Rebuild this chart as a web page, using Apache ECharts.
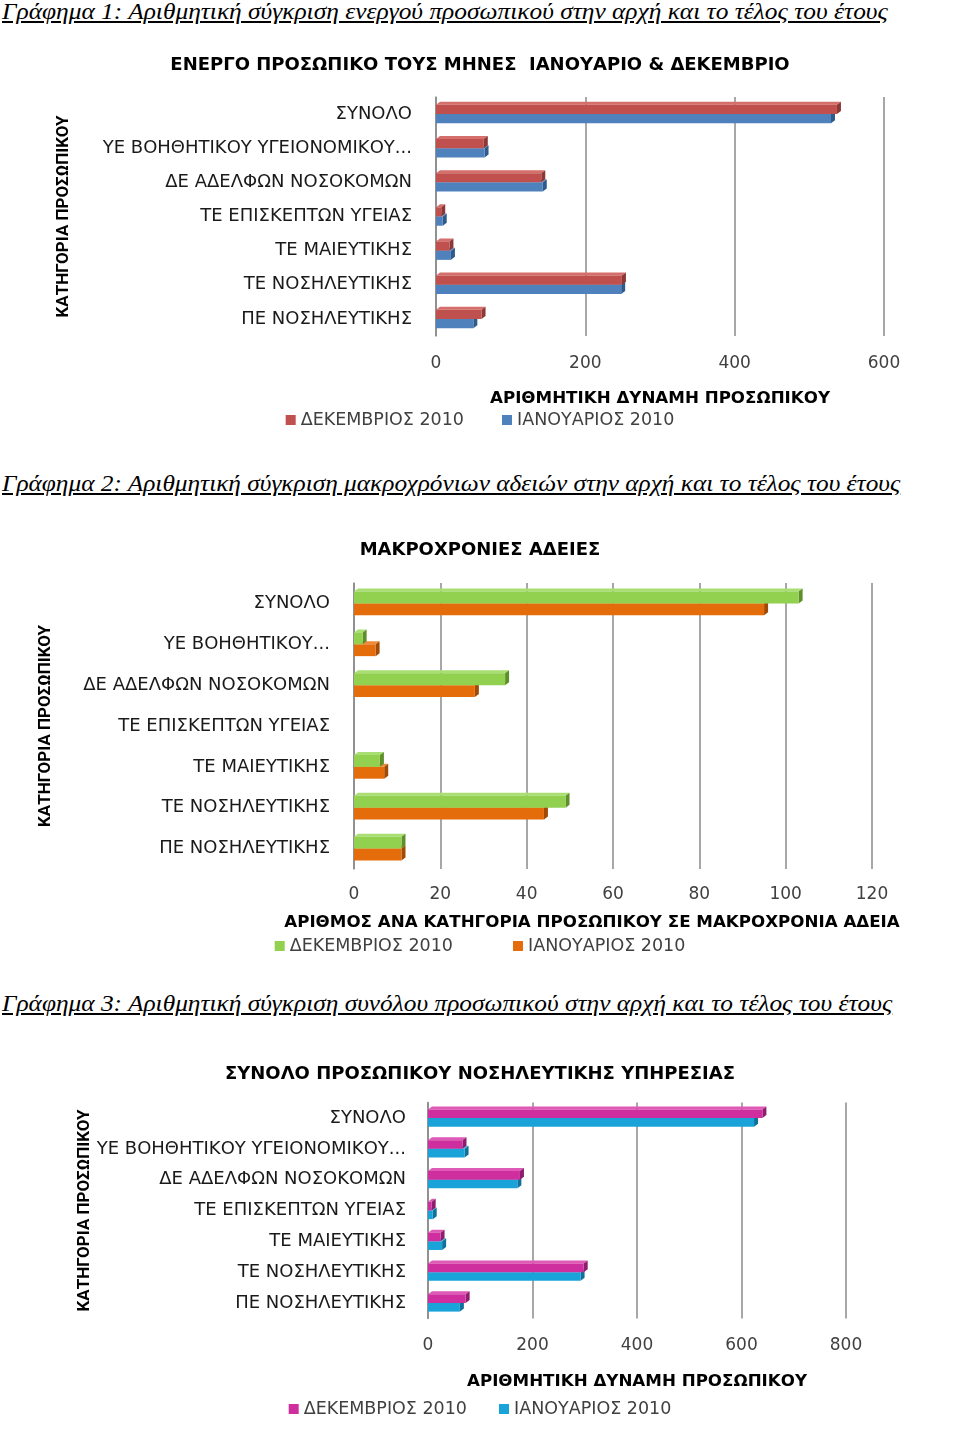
<!DOCTYPE html>
<html><head><meta charset="utf-8">
<script src="https://cdn.jsdelivr.net/npm/echarts@6/dist/echarts.min.js"></script>
<style>
html,body{margin:0;padding:0;background:#fff;width:960px;height:1434px;overflow:hidden;position:relative}
.h{position:absolute;left:2px;font-family:"Liberation Serif","DejaVu Serif",serif;font-style:italic;font-size:24px;text-decoration:underline;white-space:nowrap;transform-origin:0 0;color:#000;line-height:1}
.c{position:absolute;left:0;width:960px}
</style></head><body>
<div class="h" id="h1" style="top:-1px">Γράφημα 1: Αριθμητική σύγκριση ενεργού προσωπικού στην αρχή και το τέλος του έτους</div>
<div class="h" id="h2" style="top:471px">Γράφημα 2: Αριθμητική σύγκριση μακροχρόνιων αδειών στην αρχή και το τέλος του έτους</div>
<div class="h" id="h3" style="top:991px">Γράφημα 3: Αριθμητική σύγκριση συνόλου προσωπικού στην αρχή και το τέλος του έτους</div>
<div class="c" id="c1" style="top:30px;height:420px"></div>
<div class="c" id="c2" style="top:500px;height:470px"></div>
<div class="c" id="c3" style="top:1020px;height:414px"></div>
<script>
// ---- DATA ----
const categoriesLong = ['ΣΥΝΟΛΟ','ΥΕ ΒΟΗΘΗΤΙΚΟΥ ΥΓΕΙΟΝΟΜΙΚΟΥ...','ΔΕ ΑΔΕΛΦΩΝ ΝΟΣΟΚΟΜΩΝ','ΤΕ ΕΠΙΣΚΕΠΤΩΝ ΥΓΕΙΑΣ','ΤΕ ΜΑΙΕΥΤΙΚΗΣ','ΤΕ ΝΟΣΗΛΕΥΤΙΚΗΣ','ΠΕ ΝΟΣΗΛΕΥΤΙΚΗΣ'];
const categoriesShort = ['ΣΥΝΟΛΟ','ΥΕ ΒΟΗΘΗΤΙΚΟΥ...','ΔΕ ΑΔΕΛΦΩΝ ΝΟΣΟΚΟΜΩΝ','ΤΕ ΕΠΙΣΚΕΠΤΩΝ ΥΓΕΙΑΣ','ΤΕ ΜΑΙΕΥΤΙΚΗΣ','ΤΕ ΝΟΣΗΛΕΥΤΙΚΗΣ','ΠΕ ΝΟΣΗΛΕΥΤΙΚΗΣ'];
const seriesNames = ['ΔΕΚΕΜΒΡΙΟΣ 2010','ΙΑΝΟΥΑΡΙΟΣ 2010'];
const activeDec = [537, 64, 141, 7, 18, 249, 61];
const activeJan = [529, 65, 143, 9, 20, 248, 50];
const leaveDec  = [103, 2, 35, 0, 6, 49, 11];
const leaveJan  = [95, 5, 28, 0, 7, 44, 11];
const totalDec  = [640, 66, 176, 7, 24, 298, 72];
const totalJan  = [624, 70, 171, 9, 27, 292, 61];
const titles = ['ΕΝΕΡΓΟ ΠΡΟΣΩΠΙΚΟ ΤΟΥΣ ΜΗΝΕΣ  ΙΑΝΟΥΑΡΙΟ & ΔΕΚΕΜΒΡΙΟ','ΜΑΚΡΟΧΡΟΝΙΕΣ ΑΔΕΙΕΣ','ΣΥΝΟΛΟ ΠΡΟΣΩΠΙΚΟΥ ΝΟΣΗΛΕΥΤΙΚΗΣ ΥΠΗΡΕΣΙΑΣ'];
const xNames = ['ΑΡΙΘΜΗΤΙΚΗ ΔΥΝΑΜΗ ΠΡΟΣΩΠΙΚΟΥ','ΑΡΙΘΜΟΣ ΑΝΑ ΚΑΤΗΓΟΡΙΑ ΠΡΟΣΩΠΙΚΟΥ ΣΕ ΜΑΚΡΟΧΡΟΝΙΑ ΑΔΕΙΑ','ΑΡΙΘΜΗΤΙΚΗ ΔΥΝΑΜΗ ΠΡΟΣΩΠΙΚΟΥ'];
const yName = 'ΚΑΤΗΓΟΡΙΑ ΠΡΟΣΩΠΙΚΟΥ';
const xMax = [600, 120, 800];
const xInterval = [200, 20, 200];

// fit headings width
[['h1',886],['h2',898],['h3',890]].forEach(([id,w])=>{
  const el=document.getElementById(id);
  el.style.display='inline-block';
  el.style.transform='scaleX('+(w/el.offsetWidth)+')';
});

const FONT = '"DejaVu Sans", "Open Sans", sans-serif';
const NARROW = 'Roboto,"Liberation Sans",sans-serif';

function make3D(slot, color, topC, sideC, frac){
  return function(params, api){
    const v = api.value(0), c = api.value(1);
    if(!(v>0)) return {type:'group', children:[]};
    const s = api.coord([0,c]), e = api.coord([v,c]);
    const band = api.size([0,1])[1];
    const h = band*frac;
    const y0 = slot===0 ? s[1]-h : s[1];
    const y1 = y0+h;
    const x0 = s[0], x1 = e[0];
    const dx=4, dy=3;
    return {type:'group', children:[
      {type:'polygon', shape:{points:[[x0,y0],[x1,y0],[x1+dx,y0-dy],[x0+dx,y0-dy]]}, style:{fill:topC}},
      {type:'polygon', shape:{points:[[x1,y0],[x1+dx,y0-dy],[x1+dx,y1-dy],[x1,y1]]}, style:{fill:sideC}},
      {type:'rect', shape:{x:x0,y:y0,width:x1-x0,height:h}, style:{fill:color}}
    ]};
  };
}

function build(cfg){
  const chart = echarts.init(document.getElementById(cfg.el), null, {renderer:'canvas'});
  const mk = (vals,slot,col)=>({
    type:'custom', name:seriesNames[slot], z: slot===0?3:2,
    itemStyle:{color:col[0]},
    encode:{x:0,y:1},
    data: vals.map((v,i)=>[v,i]),
    renderItem: make3D(slot,col[0],col[1],col[2],cfg.frac)
  });
  chart.setOption({
    animation:false,
    backgroundColor:'transparent',
    title:{text:cfg.title,left:'center',top:cfg.titleTop,textStyle:{fontFamily:FONT,fontWeight:'bold',fontSize:18,color:'#000'}},
    legend:{top:cfg.legendTop,left:'center',itemWidth:10,itemHeight:10,itemGap:cfg.legendGap,icon:'rect',
      textStyle:{fontFamily:FONT,fontSize:17.5,color:'#404040'},data:seriesNames},
    grid:{left:cfg.left,width:cfg.width,top:cfg.top,height:cfg.height},
    xAxis:{type:'value',min:0,max:cfg.max,interval:cfg.interval,
      axisLine:{show:false},axisTick:{show:false},
      splitLine:{show:true,lineStyle:{color:'#8a8a8a',width:1.5}},
      axisLabel:{margin:cfg.labelMargin,fontFamily:FONT,fontSize:17,color:'#404040'},
      name:cfg.xName,nameLocation:'middle',nameGap:cfg.xNameGap,
      nameTextStyle:{fontFamily:FONT,fontWeight:'bold',fontSize:16.7,color:'#000',padding:cfg.xNamePad||0}},
    yAxis:{type:'category',inverse:true,data:cfg.cats,
      axisLine:{show:true,lineStyle:{color:'#8a8a8a',width:1.5}},axisTick:{show:false},
      axisLabel:{margin:cfg.catMargin,fontFamily:FONT,fontSize:18,color:'#1a1a1a'},
      name:yName,nameLocation:'middle',nameGap:cfg.yNameGap,nameRotate:90,
      nameTextStyle:{fontFamily:NARROW,fontWeight:'bold',fontSize:17,color:'#000'}},
    series:[mk(cfg.d1,0,cfg.c1), mk(cfg.d2,1,cfg.c2)]
  });
}

build({el:'c1',title:titles[0],titleTop:21,legendTop:376,legendGap:38,
  left:436,width:448,top:67,height:239,max:xMax[0],interval:xInterval[0],labelMargin:19,
  xName:xNames[0],xNameGap:54,cats:categoriesLong,catMargin:24,yNameGap:364,frac:0.27,
  d1:activeDec,d2:activeJan,c1:['#C0504D','#D46F6C','#8C3836'],c2:['#4F81BD','#6F9BD0','#2F5A8C']});
build({el:'c2',title:titles[1],titleTop:36,legendTop:432,legendGap:60,
  left:354,width:518,top:83,height:286,max:xMax[1],interval:xInterval[1],labelMargin:17,
  xName:xNames[1],xNameGap:45,xNamePad:[0,42,0,0],cats:categoriesShort,catMargin:24,yNameGap:300,frac:0.29,
  d1:leaveDec,d2:leaveJan,c1:['#92D050','#A9DE72','#5E8F2A'],c2:['#E46C0A','#EE8A3A','#A14A05']});
build({el:'c3',title:titles[2],titleTop:40,legendTop:375,legendGap:32,
  left:428,width:418,top:82.6,height:215.8,max:xMax[2],interval:xInterval[2],labelMargin:19,
  xName:xNames[2],xNameGap:55,cats:categoriesLong,catMargin:22,yNameGap:335,frac:0.28,
  d1:totalDec,d2:totalJan,c1:['#CF2F9E','#DE5AB6','#8E1E6D'],c2:['#1AA3D8','#4DBBE4','#0F7099']});
</script>
</body></html>
